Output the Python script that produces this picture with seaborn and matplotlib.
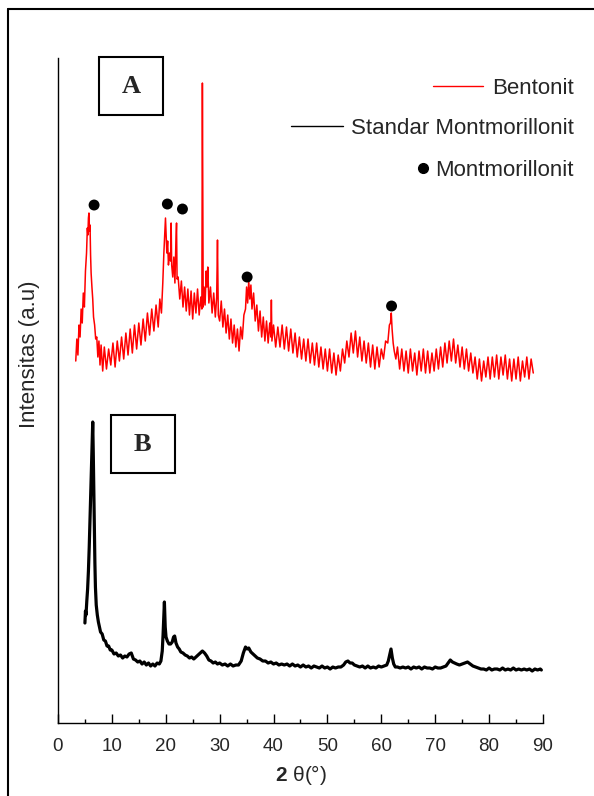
import numpy as np
import seaborn as sns
import matplotlib.pyplot as plt
from matplotlib.lines import Line2D
from matplotlib.patches import Rectangle

# Bentonit (A) - 2theta and intensity (a.u.)
bentonit_2theta = [
    3.3, 3.5, 3.7, 3.9, 4.1, 4.3, 4.5, 4.7, 4.9, 5.1,
    5.3, 5.45, 5.55, 5.65, 5.75, 5.85, 5.95, 6.05, 6.15, 6.3,
    6.45, 6.6, 6.8, 7.0, 7.2, 7.4, 7.6, 7.8, 8.0, 8.3,
    8.6, 9.0, 9.4, 9.8, 10.2, 10.6, 11.0, 11.4, 11.8, 12.2,
    12.6, 13.0, 13.4, 13.8, 14.2, 14.6, 15.0, 15.4, 15.8, 16.2,
    16.6, 17.0, 17.4, 17.8, 18.2, 18.6, 18.9, 19.2, 19.45, 19.65,
    19.8, 19.95, 20.05, 20.2, 20.35, 20.5, 20.7, 20.9, 21.0, 21.1,
    21.3, 21.5, 21.7, 21.85, 22.0, 22.1, 22.3, 22.6, 22.9, 23.2,
    23.5, 23.8, 24.1, 24.4, 24.7, 25.0, 25.3, 25.6, 25.9, 26.2,
    26.5, 26.7, 26.8, 26.85, 26.95, 27.1, 27.3, 27.5, 27.65, 27.8,
    28.0, 28.3, 28.6, 28.9, 29.2, 29.45, 29.6, 29.75, 30.0, 30.3,
    30.6, 30.9, 31.2, 31.5, 31.8, 32.1, 32.4, 32.7, 33.0, 33.3,
    33.6, 33.9, 34.2, 34.5, 34.8, 35.0, 35.2, 35.4, 35.6, 35.8,
    36.0, 36.3, 36.6, 36.9, 37.2, 37.5, 37.8, 38.1, 38.4, 38.7,
    39.0, 39.3, 39.5, 39.6, 39.7, 40.0, 40.4, 40.8, 41.2, 41.6,
    42.0, 42.4, 42.8, 43.2, 43.6, 44.0, 44.4, 44.8, 45.2, 45.6,
    46.0, 46.4, 46.8, 47.2, 47.6, 48.0, 48.4, 48.8, 49.2, 49.6,
    50.0, 50.4, 50.8, 51.2, 51.6, 52.0, 52.4, 52.8, 53.2, 53.6,
    54.0, 54.4, 54.8, 55.2, 55.6, 56.0, 56.4, 56.8, 57.2, 57.6,
    58.0, 58.4, 58.8, 59.2, 59.6, 60.0, 60.4, 60.8, 61.2, 61.5,
    61.7, 61.85, 62.0, 62.2, 62.4, 62.7, 63.0, 63.4, 63.8, 64.2,
    64.6, 65.0, 65.4, 65.8, 66.2, 66.6, 67.0, 67.4, 67.8, 68.2,
    68.6, 69.0, 69.4, 69.8, 70.2, 70.6, 71.0, 71.4, 71.8, 72.2,
    72.6, 73.0, 73.4, 73.8, 74.2, 74.6, 75.0, 75.4, 75.8, 76.2,
    76.6, 77.0, 77.4, 77.8, 78.2, 78.6, 79.0, 79.4, 79.8, 80.2,
    80.6, 81.0, 81.4, 81.8, 82.2, 82.6, 83.0, 83.4, 83.8, 84.2,
    84.6, 85.0, 85.4, 85.8, 86.2, 86.6, 87.0, 87.4, 87.8, 88.2,
]
bentonit_int = [
    362, 384, 368, 398, 386, 414, 400, 430, 416, 452,
    470, 495, 488, 505, 510, 492, 498, 468, 450, 436,
    424, 406, 398, 384, 386, 366, 382, 358, 378, 352,
    376, 354, 374, 358, 380, 356, 382, 362, 386, 364,
    390, 368, 394, 370, 398, 374, 400, 378, 404, 382,
    410, 388, 414, 392, 418, 396, 424, 410, 440, 470,
    488, 505, 492, 470, 482, 458, 470, 462, 500, 458,
    446, 466, 440, 474, 500, 444, 446, 424, 442, 416,
    436, 412, 434, 408, 432, 404, 430, 410, 434, 408,
    426, 414, 640, 563, 416, 436, 418, 452, 436, 456,
    420, 436, 410, 430, 406, 426, 483, 408, 402, 422,
    396, 414, 390, 408, 384, 404, 380, 398, 376, 394,
    372, 396, 384, 408, 414, 436, 420, 442, 424, 438,
    414, 430, 402, 418, 392, 412, 386, 406, 382, 402,
    380, 400, 386, 423, 382, 398, 376, 396, 376, 398,
    374, 396, 372, 394, 370, 390, 366, 386, 364, 384,
    362, 384, 360, 380, 358, 380, 356, 376, 354, 374,
    352, 374, 350, 370, 348, 368, 352, 374, 360, 382,
    366, 390, 370, 392, 366, 386, 362, 382, 360, 380,
    356, 378, 354, 376, 356, 374, 364, 382, 380, 398,
    400, 410, 394, 380, 372, 364, 376, 354, 374, 352,
    372, 350, 374, 352, 370, 348, 372, 352, 374, 350,
    372, 350, 370, 352, 374, 354, 376, 356, 380, 360,
    382, 362, 384, 360, 378, 356, 376, 354, 374, 352,
    370, 350, 366, 344, 364, 342, 362, 346, 366, 344,
    366, 346, 368, 344, 366, 348, 368, 344, 364, 342,
    364, 344, 366, 342, 362, 346, 366, 344, 364, 350,
]

# Standar Montmorillonit (B)
standar_2theta = [
    5.0, 5.1, 5.2, 5.35, 5.5, 5.65, 5.8, 5.95, 6.1, 6.25,
    6.35, 6.45, 6.55, 6.65, 6.75, 6.85, 6.95, 7.1, 7.3, 7.5,
    7.7, 7.9, 8.2, 8.5, 8.8, 9.1, 9.4, 9.7, 10.0, 10.4,
    10.8, 11.2, 11.6, 12.0, 12.4, 12.8, 13.2, 13.6, 14.0, 14.4,
    14.8, 15.2, 15.6, 16.0, 16.4, 16.8, 17.2, 17.6, 18.0, 18.4,
    18.8, 19.1, 19.35, 19.5, 19.65, 19.75, 19.9, 20.05, 20.3, 20.6,
    20.9, 21.2, 21.45, 21.65, 21.9, 22.2, 22.5, 22.8, 23.2, 23.6,
    24.0, 24.4, 24.8, 25.2, 25.6, 26.0, 26.4, 26.8, 27.2, 27.6,
    28.0, 28.4, 28.8, 29.2, 29.6, 30.0, 30.5, 31.0, 31.5, 32.0,
    32.5, 33.0, 33.5, 34.0, 34.4, 34.8, 35.1, 35.4, 35.8, 36.2,
    36.6, 37.0, 37.5, 38.0, 38.5, 39.0, 39.5, 40.0, 40.5, 41.0,
    41.5, 42.0, 42.5, 43.0, 43.5, 44.0, 44.5, 45.0, 45.5, 46.0,
    46.5, 47.0, 47.5, 48.0, 48.5, 49.0, 49.5, 50.0, 50.5, 51.0,
    51.5, 52.0, 52.5, 53.0, 53.4, 53.8, 54.2, 54.6, 55.0, 55.5,
    56.0, 56.5, 57.0, 57.5, 58.0, 58.5, 59.0, 59.5, 60.0, 60.5,
    61.0, 61.3, 61.55, 61.8, 62.05, 62.3, 62.6, 63.0, 63.5, 64.0,
    64.5, 65.0, 65.5, 66.0, 66.5, 67.0, 67.5, 68.0, 68.5, 69.0,
    69.5, 70.0, 70.5, 71.0, 71.5, 72.0, 72.4, 72.8, 73.2, 73.6,
    74.0, 74.5, 75.0, 75.5, 76.0, 76.5, 77.0, 77.5, 78.0, 78.5,
    79.0, 79.5, 80.0, 80.5, 81.0, 81.5, 82.0, 82.5, 83.0, 83.5,
    84.0, 84.5, 85.0, 85.5, 86.0, 86.5, 87.0, 87.5, 88.0, 88.5,
    89.0, 89.5, 89.7,
]
standar_int = [
    100, 112, 108, 122, 134, 152, 176, 205, 236, 262,
    282, 301, 270, 232, 196, 160, 136, 118, 108, 101,
    96, 91, 89, 83, 82, 77, 77, 73, 73, 69,
    70, 67, 68, 65, 67, 66, 69, 70, 64, 63,
    61, 62, 59, 61, 58, 60, 57, 59, 57, 60,
    59, 62, 72, 88, 108, 121, 96, 86, 82, 79,
    79, 81, 86, 87, 80, 76, 74, 71, 70, 68,
    67, 65, 66, 64, 66, 68, 70, 72, 70, 67,
    63, 62, 60, 61, 59, 60, 58, 59, 57, 59,
    57, 58, 58, 62, 70, 76, 74, 75, 71, 69,
    67, 65, 64, 62, 62, 60, 61, 59, 60, 58,
    59, 58, 59, 57, 59, 57, 58, 56, 58, 56,
    57, 55, 57, 56, 55, 57, 55, 56, 54, 56,
    55, 56, 56, 58, 61, 62, 60, 60, 58, 57,
    56, 57, 55, 57, 55, 56, 55, 57, 56, 57,
    58, 62, 68, 74, 65, 59, 56, 56, 55, 56,
    55, 56, 54, 56, 55, 56, 54, 56, 55, 55,
    54, 56, 55, 55, 56, 57, 60, 63, 61, 60,
    59, 58, 59, 60, 61, 59, 57, 56, 55, 54,
    54, 53, 55, 53, 54, 54, 53, 55, 53, 54,
    53, 55, 53, 54, 53, 54, 53, 54, 52, 54,
    53, 54, 53,
]

# montmorillonite reflections marked on the bentonite pattern
mont_2theta = [6.7, 20.3, 23.1, 35.1, 61.9]
mont_int = [518, 519, 514, 446, 417]

sns.set_theme(style="white")
plt.rcParams["font.family"] = ["Liberation Sans", "DejaVu Sans"]
plt.rcParams["mathtext.fontset"] = "custom"
plt.rcParams["mathtext.bf"] = "Liberation Sans:bold"

fig = plt.figure(figsize=(5.94, 7.96), dpi=100)
ax = fig.add_axes([0.0976, 0.0917, 0.8165, 0.8354])

sns.lineplot(x=bentonit_2theta, y=bentonit_int, ax=ax, color="#ff0000",
             lw=1.1, estimator=None, sort=False)
sns.lineplot(x=standar_2theta, y=standar_int, ax=ax, color="black",
             lw=2.3, estimator=None, sort=False)
sns.scatterplot(x=mont_2theta, y=mont_int, ax=ax, color="black", s=62,
                edgecolor="none", zorder=5)

ax.set_xlim(0, 90)
ax.set_ylim(0, 665)
ax.set_xticks(np.arange(0, 91, 10))
ax.set_xticks(np.arange(5, 90, 10), minor=True)
ax.set_yticks([])
ax.tick_params(axis="x", which="major", direction="in", length=6.5, width=1,
               color="black", labelsize=13.5, pad=10.5, bottom=True)
ax.tick_params(axis="x", which="minor", direction="in", length=3, width=1,
               color="black", bottom=True)
for lab in ax.get_xticklabels():
    lab.set_family(["Liberation Sans Narrow", "Liberation Sans"])

sns.despine(ax=ax)
for side in ["left", "bottom"]:
    ax.spines[side].set_color("black")
    ax.spines[side].set_linewidth(1.0)

ax.set_xlabel(r"$\mathbf{2}$ θ(°)", fontsize=15, labelpad=6)
ax.set_ylabel("Intensitas (a.u)", fontsize=16)
ax.yaxis.set_label_coords(-0.037, 0.555)

# panel letters
for (x0, y0, x1, y1, letter) in [(0.0845, 0.914, 0.2165, 1.0015, "A"),
                                 (0.109, 0.376, 0.241, 0.463, "B")]:
    ax.add_patch(Rectangle((x0, y0), x1 - x0, y1 - y0, transform=ax.transAxes,
                           fill=False, lw=1.5, ec="black", clip_on=False))
    ax.text((x0 + x1) / 2, (y0 + y1) / 2, letter, transform=ax.transAxes,
            ha="center", va="center", fontsize=19, fontweight="bold",
            family="Liberation Serif")

# legend entries, right aligned like the original
leg_kw = dict(frameon=False, fontsize=16, borderpad=0, borderaxespad=0,
              loc="center right")
fig.legend(handles=[Line2D([], [], color="#ff0000", lw=1)], labels=["Bentonit"],
           bbox_to_anchor=(0.966, 0.889), handlelength=2.25, handletextpad=0.4, **leg_kw)
fig.legend(handles=[Line2D([], [], color="black", lw=1)],
           labels=["Standar Montmorillonit"],
           bbox_to_anchor=(0.966, 0.839), handlelength=2.35, handletextpad=0.36, **leg_kw)
fig.legend(handles=[Line2D([], [], color="black", marker="o", ls="none", markersize=7)],
           labels=["Montmorillonit"],
           bbox_to_anchor=(0.966, 0.786), handlelength=0.6, handletextpad=0.25, **leg_kw)

# outer frame (left and top edges visible in the original)
fig.add_artist(Line2D([8 / 594, 8 / 594], [0, 1 - 9 / 796], color="black", lw=1.5))
fig.add_artist(Line2D([8 / 594, 1], [1 - 9 / 796, 1 - 9 / 796], color="black", lw=1.5))

fig.savefig("out.png", dpi=100)
